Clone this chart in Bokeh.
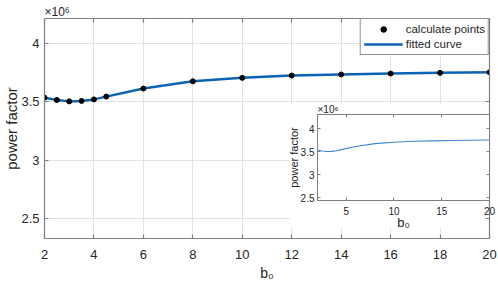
from bokeh.plotting import figure
from bokeh.layouts import column
from bokeh.models import (FixedTicker, NumeralTickFormatter, LinearAxis, Legend,
                          LegendItem, BoxAnnotation)
from bokeh.embed import file_html
from bokeh.resources import INLINE

# ---- data (power factor in units of 10^6) ----
b0 = [2, 2.5, 3, 3.5, 4, 4.5, 6, 8, 10, 12, 14, 16, 18, 20]
power_factor = [3.537, 3.517, 3.505, 3.509, 3.522, 3.546, 3.615, 3.677,
                3.707, 3.727, 3.736, 3.744, 3.750, 3.755]
x_ticks = [2, 4, 6, 8, 10, 12, 14, 16, 18, 20]
y_ticks = [2.5, 3, 3.5, 4]
inset_x_ticks = [5, 10, 15, 20]
inset_y_ticks = [2.5, 3, 3.5, 4]
x_label = "b\u2080"
y_label = "power factor"
multiplier = "\u00d710\u2076"

FONT = "Liberation Sans"
AX = "#7f7f7f"
TXT = "#262626"
BLUE = "#0b63b5"

X0, X1 = 2, 20
Y0, Y1 = 2.327, 4.217
IY0, IY1 = 2.44, 4.31

def style_axis(ax, ticks, show_labels, font_size, standoff):
    ax.ticker = FixedTicker(ticks=ticks)
    ax.formatter = NumeralTickFormatter(format="0.[0]")
    ax.axis_line_color = AX
    ax.axis_line_width = 1.2
    ax.major_tick_line_color = AX
    ax.major_tick_line_width = 1.2
    ax.major_tick_in = 4
    ax.major_tick_out = 0
    ax.minor_tick_line_color = None
    ax.major_label_text_font = FONT
    if show_labels:
        ax.major_label_text_color = TXT
        ax.major_label_text_font_size = font_size
        ax.major_label_standoff = standoff
    else:
        ax.major_label_text_color = None
        ax.major_label_text_font_size = "1px"
        ax.major_label_standoff = 0

def style_label(ax, text, size, standoff):
    ax.axis_label = text
    ax.axis_label_text_font = FONT
    ax.axis_label_text_font_size = size
    ax.axis_label_text_font_style = "normal"
    ax.axis_label_text_color = TXT
    ax.axis_label_standoff = standoff

def style_title(fig, size, offset):
    fig.title.text = multiplier
    fig.title.align = "left"
    fig.title.offset = offset
    fig.title.standoff = 0
    fig.title.text_font = FONT
    fig.title.text_font_size = size
    fig.title.text_font_style = "normal"
    fig.title.text_color = TXT

# ---------------- main figure ----------------
p = figure(width=498, height=285, x_range=(X0, X1), y_range=(Y0, Y1),
           output_backend="svg", toolbar_location=None,
           min_border_left=42, min_border_right=9, min_border_top=18,
           min_border_bottom=47, frame_align=False)
p.outline_line_color = None
p.background_fill_color = "white"
p.border_fill_color = "white"
p.margin = 0
style_title(p, "12px", 0)

style_axis(p.xaxis[0], x_ticks, True, "13px", 11)
style_axis(p.yaxis[0], y_ticks, True, "13px", 5)
style_label(p.xaxis[0], x_label, "14px", 3)
style_label(p.yaxis[0], y_label, "15px", -2)

top_ax = LinearAxis()
style_axis(top_ax, x_ticks, False, "1px", 0)
p.add_layout(top_ax, "above")
right_ax = LinearAxis()
style_axis(right_ax, y_ticks, False, "1px", 0)
p.add_layout(right_ax, "right")

p.xgrid.ticker = FixedTicker(ticks=x_ticks)
p.ygrid.ticker = FixedTicker(ticks=y_ticks)
for g in (p.xgrid[0], p.ygrid[0]):
    g.grid_line_color = "#e2e2e2"
    g.grid_line_width = 1

# white area behind the inset (hides main grid there)
p.add_layout(BoxAnnotation(left=11.91, right=X1, top=3.487, bottom=2.413,
                           fill_color="white", fill_alpha=1.0,
                           line_color=None, level="underlay"))

ln = p.line(b0, power_factor, line_color=BLUE, line_width=2.5)
sc = p.scatter(b0, power_factor, size=5, fill_color="black",
               line_color="black")

legend = Legend(items=[LegendItem(label="calculate points", renderers=[sc]),
                       LegendItem(label="fitted curve", renderers=[ln])],
                location="top_right", margin=0, padding=3, spacing=1,
                glyph_width=39, glyph_height=14, label_height=14,
                label_standoff=3, label_text_font=FONT,
                label_text_font_size="11.5px", label_text_color=TXT,
                border_line_color="#262626", border_line_width=1,
                background_fill_color="white", background_fill_alpha=1.0)
p.add_layout(legend)

# ---------------- inset figure ----------------
q = figure(width=232, height=189, x_range=(X0, X1), y_range=(IY0, IY1),
           output_backend="svg", toolbar_location=None,
           min_border_left=51, min_border_right=9, min_border_top=18,
           min_border_bottom=85, frame_align=False)
q.outline_line_color = None
q.background_fill_color = "white"
q.border_fill_alpha = 0.0
q.xgrid.visible = False
q.ygrid.visible = False
q.margin = (96 - 285, 0, 0, 266)
style_title(q, "10px", 0)

def style_inset_axis(ax, ticks, show_labels):
    style_axis(ax, ticks, show_labels, "10px", 3)
    ax.major_tick_in = 3
    ax.axis_line_width = 1
    ax.major_tick_line_width = 1

style_inset_axis(q.xaxis[0], inset_x_ticks, True)
style_inset_axis(q.yaxis[0], inset_y_ticks, True)
q.xaxis[0].major_label_standoff = 6
style_label(q.xaxis[0], x_label, "13px", -3)
style_label(q.yaxis[0], y_label, "11px", -2)

qt = LinearAxis()
style_inset_axis(qt, inset_x_ticks, False)
q.add_layout(qt, "above")
qr = LinearAxis()
style_inset_axis(qr, inset_y_ticks, False)
q.add_layout(qr, "right")

q.line(b0, power_factor, line_color="#3f86d0", line_width=1.1)

layout = column(p, q, spacing=0)

open("out.html", "w").write(file_html(layout, INLINE))
